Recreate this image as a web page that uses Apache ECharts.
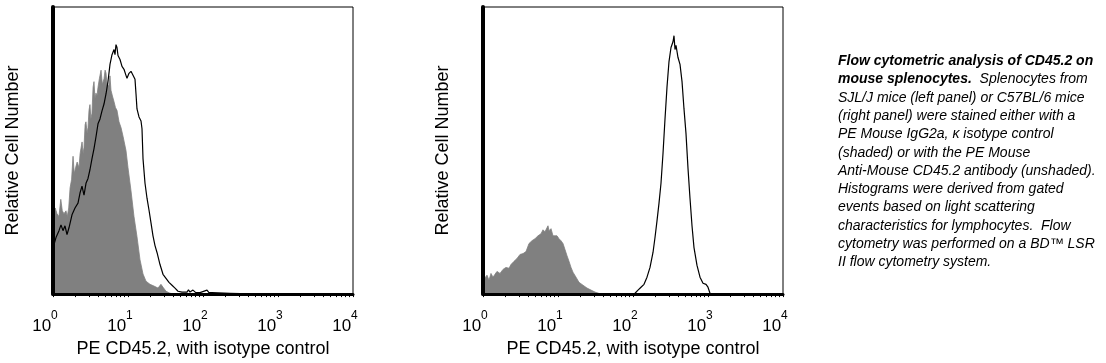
<!DOCTYPE html>
<html><head><meta charset="utf-8">
<script src="https://cdn.jsdelivr.net/npm/echarts@6/dist/echarts.min.js"></script>
<style>html,body{margin:0;padding:0;background:#fff}#c{width:1106px;height:363px}</style>
</head><body><div id="c"></div><script>
// ---- data (x = PE fluorescence, y = relative cell number, 0-100) ----
var leftIsotype = [[1.00,28],[1.07,30],[1.13,28],[1.20,27],[1.27,33],[1.33,29],[1.40,28],[1.49,29],[1.55,27],[1.62,30],[1.69,37],[1.77,40],[1.85,48],[1.92,42],[2.00,44],[2.10,46],[2.22,44],[2.30,49],[2.44,53],[2.52,49],[2.59,51],[2.68,59],[2.75,60],[2.85,56],[2.93,58],[3.02,64],[3.11,66],[3.20,61],[3.31,63],[3.42,72],[3.52,74],[3.63,68],[3.74,70],[3.86,69],[3.98,72],[4.15,75],[4.37,78],[4.55,73],[4.79,75],[4.95,78],[5.09,77],[5.30,72],[5.58,73],[5.75,76],[5.93,71],[6.20,69],[6.51,67],[6.80,65],[7.13,64],[7.59,60],[8.07,58],[8.58,55],[9.40,50],[10.0,44],[10.96,36],[12.02,27],[13.18,20],[14.45,12],[15.85,7],[17.38,4.5],[19.65,3.4],[22.2,2.8],[25.1,2.1],[27.5,3.4],[29.3,2.4],[32.1,1.0],[36.3,0.3],[42,0],[10000,0]];
var leftCD452 = [[1.00,16],[1.096,19.7],[1.202,22.1],[1.278,24.1],[1.359,22.1],[1.445,23.8],[1.537,20.7],[1.634,23.1],[1.792,27.6],[1.965,30],[2.154,31.7],[2.291,35.2],[2.436,37.6],[2.591,34.5],[2.754,38.6],[2.929,40.3],[3.114,43.4],[3.311,47.2],[3.522,50.7],[3.744,54.8],[3.981,59.3],[4.234,61],[4.501,63.8],[4.786,66.2],[5.09,69.7],[5.412,74.1],[5.754,80],[6.119,83.4],[6.51,85.2],[6.708,83.4],[6.918,86.9],[7.13,85.9],[7.356,83.1],[7.822,81.7],[8.318,79.3],[8.845,78.3],[9.40,76.2],[9.698,75.2],[10.31,76.9],[10.96,77.6],[11.66,76.2],[12.40,74.8],[12.79,69.7],[13.18,64.5],[14.02,61.7],[14.91,60.3],[15.37,57.6],[15.85,47.2],[16.86,38.6],[17.92,33.4],[19.05,29.3],[20.26,24.8],[21.54,20.3],[22.91,16.9],[24.36,14.5],[26.71,10.3],[29.29,6.9],[32.11,5.5],[35.21,4.1],[38.61,3.1],[42.35,2.1],[46.42,1.0],[52.48,0.7],[61.19,0.7],[64,1.5],[67.08,0.7],[73.56,1.4],[80,0.5],[91.2,0.5],[113.1,1.4],[120,0.5],[131.8,0.5],[229,0.3],[575,0],[10000,0]];
var rightIsotype = [[1.00,4.8],[1.063,5.2],[1.131,6.6],[1.202,4.8],[1.278,7.2],[1.359,5.9],[1.445,6.9],[1.537,7.9],[1.686,7.2],[1.848,8.6],[2.026,9.3],[2.222,9.0],[2.362,10.3],[2.591,11.4],[2.84,12.4],[3.114,13.8],[3.415,14.1],[3.744,14.8],[4.105,17.6],[4.501,18.6],[4.935,19.3],[5.412,20.3],[5.93,21.0],[6.31,22.4],[6.708,21.7],[7.13,23.1],[7.356,23.8],[7.586,22.1],[8.07,22.8],[8.58,20.3],[9.12,19.7],[9.70,20.3],[10.31,19.3],[10.96,18.6],[11.66,17.6],[12.40,15.5],[13.18,13.4],[14.02,11.4],[14.91,9.3],[15.85,7.6],[17.38,5.9],[19.05,4.1],[21.54,3.1],[24.36,2.1],[27.54,1.4],[31.14,0.7],[37.44,0],[10000,0]];
var rightCD452 = [[91.2,0],[106.3,0.3],[116.6,1.4],[127.8,2.4],[140.2,3.4],[153.7,5.9],[168.6,9.3],[184.8,14.5],[196.5,19.7],[208.9,25.5],[222.2,31.7],[236.2,38.6],[251.2,49.0],[267.1,61.0],[284.0,72.1],[302.0,81.0],[321.1,85.9],[341.5,87.9],[352.1,90.0],[363.1,85.2],[374.5,86.6],[386.2,84.5],[398.1,82.4],[423.4,80.0],[450.2,74.1],[478.6,64.5],[508.9,55.9],[541.2,43.8],[575.4,33.4],[611.9,23.8],[650.6,16.2],[713.5,10.0],[782.4,5.9],[857.9,3.8],[940.7,3.4],[1000,2.4],[1063,0.3],[1131,0],[10000,0]];
var tickValues = [1,2,3,4,5,6,7,8,9,10,20,30,40,50,60,70,80,90,100,200,300,400,500,600,700,800,900,1000,2000,3000,4000,5000,6000,7000,8000,9000,10000];
var decadeValues = [1,10,100,1000,10000];
var decadeExponents = ['0','1','2','3','4'];
var xName = 'PE CD45.2, with isotype control';
var yName = 'Relative Cell Number';
var captionLines = [
  '{b|Flow cytometric analysis of CD45.2 on}',
  '{b|mouse splenocytes.}  Splenocytes from',
  'SJL/J mice (left panel) or C57BL/6 mice',
  '(right panel) were stained either with a',
  'PE Mouse IgG2a, \u03ba isotype control',
  '(shaded) or with the PE Mouse',
  'Anti-Mouse CD45.2 antibody (unshaded).',
  'Histograms were derived from gated',
  'events based on light scattering',
  'characteristics for lymphocytes.  Flow',
  'cytometry was performed on a BD\u2122 LSR',
  'II flow cytometry system.'
];

var FONT = '"Liberation Sans", Arial, sans-serif';
var chart = echarts.init(document.getElementById('c'), null, {renderer: 'canvas'});

function xAxisFor(gi) {
  return {
    type: 'log', logBase: 10, gridIndex: gi, min: 1, max: 10000, z: 10,
    name: xName, nameLocation: 'middle', nameGap: 39,
    nameTextStyle: {fontSize: 18, color: '#000', fontFamily: FONT},
    axisLine: {show: true, onZero: false, lineStyle: {color: '#000', width: 3}},
    axisTick: {show: true, inside: false, length: 3, lineStyle: {color: '#000', width: 1}, customValues: tickValues},
    axisLabel: {
      show: true, margin: 16, padding: [0, 16, 0, 0], customValues: decadeValues,
      formatter: function (v) {
        var i = Math.round(Math.log(v) / Math.LN10);
        return '{b|10}{s|' + decadeExponents[i] + '}';
      },
      rich: {
        b: {fontSize: 17, fontFamily: FONT, color: '#000', lineHeight: 25, verticalAlign: 'bottom'},
        s: {fontSize: 12, fontFamily: FONT, color: '#000', lineHeight: 12, verticalAlign: 'top'}
      }
    },
    splitLine: {show: false}, minorTick: {show: false}, minorSplitLine: {show: false}
  };
}
function yAxisFor(gi) {
  return {
    type: 'value', gridIndex: gi, min: 0, max: 100, z: 10,
    name: yName, nameLocation: 'middle', nameGap: 31,
    nameTextStyle: {fontSize: 18, color: '#000', fontFamily: FONT},
    axisLine: {show: true, lineStyle: {color: '#000', width: 4}},
    axisTick: {show: false}, axisLabel: {show: false}, splitLine: {show: false}
  };
}
function fillSeries(data, idx) {
  return {type: 'line', xAxisIndex: idx, yAxisIndex: idx, data: data, showSymbol: false, symbol: 'none',
    lineStyle: {color: '#808080', width: 0.8}, areaStyle: {color: '#808080', opacity: 1}, z: 2};
}
function lineSeries(data, idx) {
  return {type: 'line', xAxisIndex: idx, yAxisIndex: idx, data: data, showSymbol: false, symbol: 'none',
    lineStyle: {color: '#000', width: 1.2}, z: 3};
}

chart.setOption({
  animation: false,
  backgroundColor: '#fff',
  grid: [
    {left: 53, top: 7, width: 300, height: 290, show: true, borderColor: '#000', borderWidth: 1, backgroundColor: 'transparent'},
    {left: 483, top: 7, width: 300, height: 290, show: true, borderColor: '#000', borderWidth: 1, backgroundColor: 'transparent'}
  ],
  xAxis: [xAxisFor(0), xAxisFor(1)],
  yAxis: [yAxisFor(0), yAxisFor(1)],
  series: [fillSeries(leftIsotype, 0), lineSeries(leftCD452, 0), fillSeries(rightIsotype, 1), lineSeries(rightCD452, 1)],
  graphic: [{
    type: 'text', left: 838, top: 52,
    style: {
      text: captionLines.join('\n'),
      fontSize: 14, fontStyle: 'italic', fontFamily: FONT, fill: '#000', lineHeight: 18.3,
      rich: {b: {fontSize: 14, fontStyle: 'italic', fontWeight: 'bold', fontFamily: FONT, fill: '#000', lineHeight: 18.3}}
    }
  }]
});
</script></body></html>
